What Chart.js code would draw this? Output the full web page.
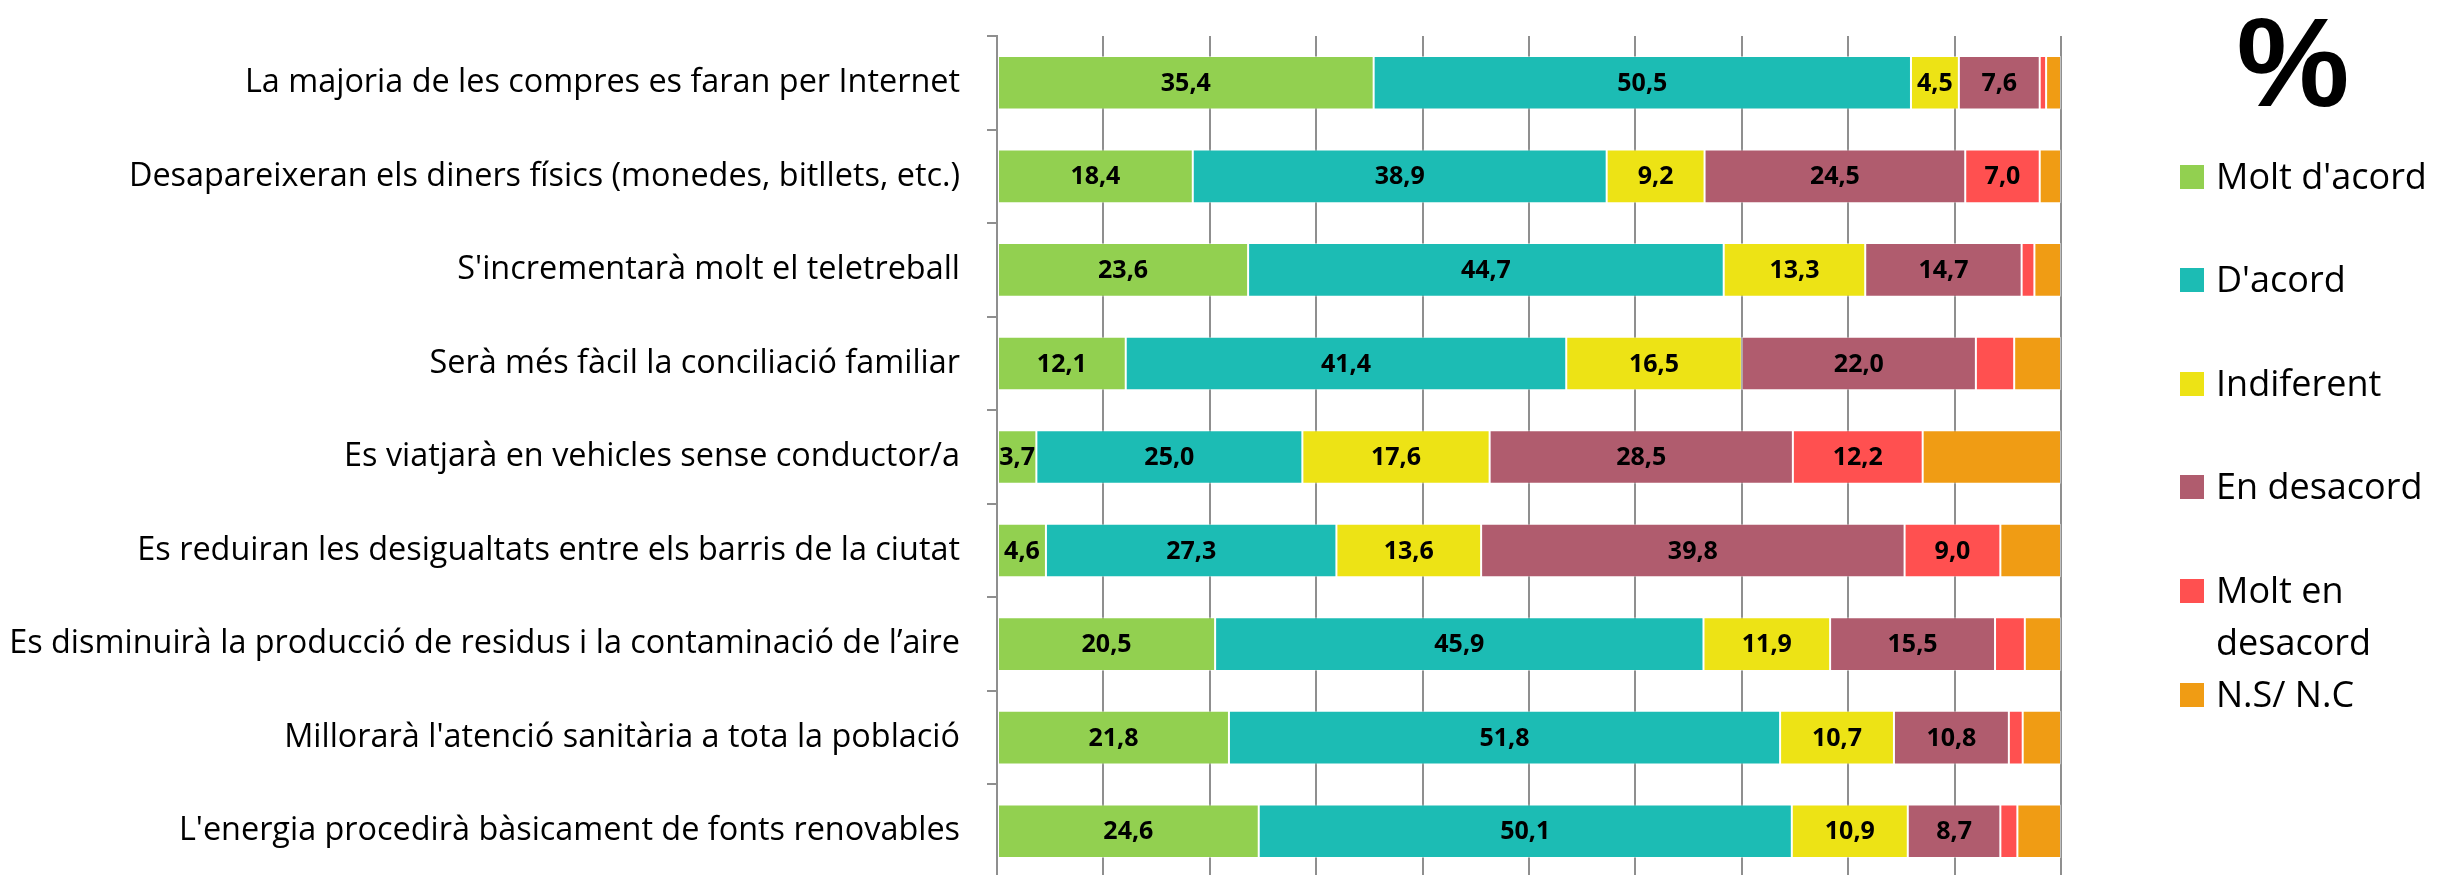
<!DOCTYPE html>
<html>
<head>
<title>Enquesta : futur</title>
<style>
  html, body { margin: 0; padding: 0; overflow: hidden; background: #fff; }
  .chart-container { position: relative; width: 2440px; height: 880px; }
  #pct {
    position: absolute; left: 2193px; top: -1px; width: 200px;
    text-align: center; font: bold 127px/1 "Liberation Sans", Arial, sans-serif; color: #000;
  }
  #legend { position: absolute; left: 2180px; top: 0; }
  .item { position: absolute; left: 0; width: 260px; font: 36px/52px "Open Sans", sans-serif; color: #000; }
  .item .box { position: absolute; left: 0; top: 15px; width: 24px; height: 24px; }
  .item .txt { position: absolute; left: 36px; top: 0; width: 226px; }
</style>
</head>
<body>
<div class="chart-container">
  <canvas id="mycanvas"></canvas>
  <div id="pct">%</div>
  <div id="legend"></div>
</div>

<script src="https://cdn.jsdelivr.net/npm/chart.js@4/dist/chart.umd.min.js"></script>
<script>
// categories (top to bottom)
var categories = [
  "La majoria de les compres es faran per Internet",
  "Desapareixeran els diners físics (monedes, bitllets, etc.)",
  "S'incrementarà molt el teletreball",
  "Serà més fàcil la conciliació familiar",
  "Es viatjarà en vehicles sense conductor/a",
  "Es reduiran les desigualtats entre els barris de la ciutat",
  "Es disminuirà la producció de residus i la contaminació de l\u2019aire",
  "Millorarà l'atenció sanitària a tota la població",
  "L'energia procedirà bàsicament de fonts renovables"
];

var seriesNames = ["Molt d'acord", "D'acord", "Indiferent", "En desacord", "Molt en desacord", "N.S/ N.C"];
var seriesColors = ["#92d050", "#1cbcb4", "#ede315", "#b05c6e", "#ff5050", "#f09c14"];

// values in %
var moltAcord    = [35.4, 18.4, 23.6, 12.1, 3.7, 4.6, 20.5, 21.8, 24.6];
var acord        = [50.5, 38.9, 44.7, 41.4, 25.0, 27.3, 45.9, 51.8, 50.1];
var indiferent   = [4.5, 9.2, 13.3, 16.5, 17.6, 13.6, 11.9, 10.7, 10.9];
var desacord     = [7.6, 24.5, 14.7, 22.0, 28.5, 39.8, 15.5, 10.8, 8.7];
var moltDesacord = [0.6, 7.0, 1.2, 3.6, 12.2, 9.0, 2.8, 1.3, 1.6];
var nsnc         = [1.4, 2.0, 2.5, 4.4, 13.0, 5.7, 3.4, 3.6, 4.1];

var seriesValues = [moltAcord, acord, indiferent, desacord, moltDesacord, nsnc];
var showValues = [true, true, true, true, true, false];
var minLabel = 3.65;

var xTicks = [0, 10, 20, 30, 40, 50, 60, 70, 80, 90, 100];

var gridColor = "#8f8f8f";

// value labels in the middle of each segment
var valueLabels = {
  id: "valueLabels",
  afterDatasetsDraw: function(chart) {
    var ctx = chart.ctx;
    ctx.save();
    ctx.font = 'bold 25px "Open Sans"';
    ctx.fillStyle = "#000";
    ctx.textAlign = "center";
    ctx.textBaseline = "middle";
    chart.data.datasets.forEach(function(ds, i) {
      if (!ds.showValues) return;
      chart.getDatasetMeta(i).data.forEach(function(bar, j) {
        var v = ds.data[j];
        if (v < minLabel) return;
        var p = bar.getProps(["x", "y", "base"], true);
        ctx.fillText(v.toFixed(1).replace(".", ","), (p.x + p.base) / 2, p.y + 1);
      });
    });
    ctx.restore();
  }
};

function draw() {
  var datasets = [];
  for (var i = 0; i < seriesNames.length; i++) {
    datasets.push({
      label: seriesNames[i],
      data: seriesValues[i],
      backgroundColor: seriesColors[i],
      borderColor: "rgba(255,255,255,0.45)",
      borderWidth: 1,
      borderSkipped: false,
      categoryPercentage: 1.0,
      barPercentage: 0.573,
      showValues: showValues[i]
    });
  }

  var ctx = document.getElementById("mycanvas");
  new Chart(ctx, {
    type: "bar",
    data: { labels: categories, datasets: datasets },
    plugins: [valueLabels],
    options: {
      indexAxis: "y",
      responsive: true,
      maintainAspectRatio: false,
      animation: false,
      layout: { padding: { top: 36, right: 379, bottom: 2, left: 0 } },
      plugins: { legend: { display: false }, tooltip: { enabled: false } },
      scales: {
        x: {
          stacked: true,
          min: 0,
          max: 100,
          afterBuildTicks: function(scale) {
            scale.ticks = xTicks.map(function(v) { return { value: v }; });
          },
          afterFit: function(scale) {
            scale.height = 0;
            scale.paddingLeft = 0;
            scale.paddingRight = 0;
          },
          ticks: { display: false },
          grid: { color: gridColor, lineWidth: 2, drawTicks: false },
          border: { display: false }
        },
        y: {
          stacked: true,
          afterFit: function(scale) {
            scale.width = 997;
            scale.paddingTop = 0;
            scale.paddingBottom = 0;
          },
          ticks: {
            color: "#000",
            padding: 27,
            font: { family: "Open Sans", size: 32.4 }
          },
          grid: { drawOnChartArea: false, color: gridColor, lineWidth: 2, tickLength: 10 },
          border: { color: gridColor, width: 2 }
        }
      }
    }
  });

  // legend
  var legend = document.getElementById("legend");
  for (var k = 0; k < seriesNames.length; k++) {
    var item = document.createElement("div");
    item.className = "item";
    item.style.top = (149.5 + 103.6 * k) + "px";
    item.innerHTML = '<div class="box" style="background:' + seriesColors[k] + '"></div><div class="txt"></div>';
    item.querySelector(".txt").textContent = seriesNames[k];
    legend.appendChild(item);
  }
}

Promise.all([
  document.fonts.load('32px "Open Sans"'),
  document.fonts.load('bold 25px "Open Sans"')
]).then(draw, draw);
</script>
</body>
</html>
